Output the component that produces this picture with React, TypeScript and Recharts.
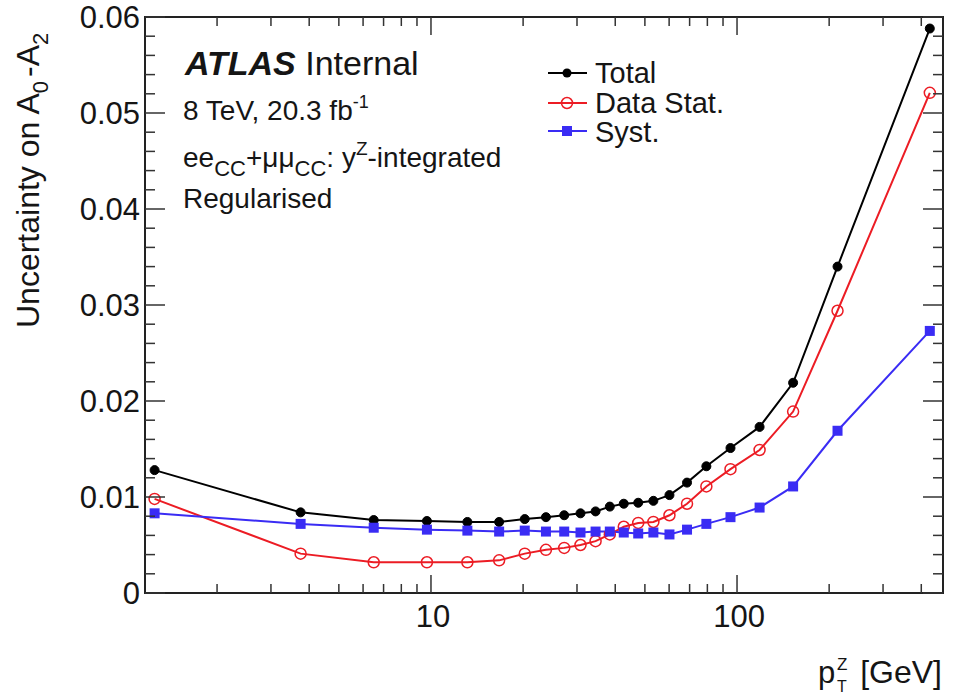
import { LineChart, Line, XAxis, YAxis, ReferenceArea } from "recharts";

// pT(Z) bin centres, GeV
const ptCentres = [
  1.25, 3.75, 6.5, 9.7, 13.15, 16.7, 20.25, 23.75, 27.25, 30.8, 34.5, 38.4,
  42.65, 47.55, 53.3, 60.15, 68.65, 79.4, 95.2, 118.5, 152.5, 213, 426.5,
];

const totalUnc = [
  0.0128, 0.0084, 0.0076, 0.0075, 0.0074, 0.0074, 0.0077, 0.0079, 0.0081,
  0.0083, 0.0085, 0.009, 0.0093, 0.0094, 0.0096, 0.0102, 0.0115, 0.0132,
  0.0151, 0.0173, 0.0219, 0.034, 0.0588,
];

const dataStatUnc = [
  0.0098, 0.0041, 0.0032, 0.0032, 0.0032, 0.0034, 0.0041, 0.0045, 0.0047,
  0.005, 0.0054, 0.0061, 0.0069, 0.0073, 0.0074, 0.0081, 0.0093, 0.0111,
  0.0129, 0.0149, 0.0189, 0.0294, 0.0521,
];

const systUnc = [
  0.0083, 0.0072, 0.0068, 0.0066, 0.0065, 0.0064, 0.0065, 0.0064, 0.0064,
  0.0063, 0.0064, 0.0064, 0.0063, 0.0062, 0.0063, 0.0061, 0.0066, 0.0072,
  0.0079, 0.0089, 0.0111, 0.0169, 0.0273,
];

const xTicks = [2, 3, 4, 5, 6, 7, 8, 9, 10, 20, 30, 40, 50, 60, 70, 80, 90, 100, 200, 300, 400];
const xLabelled = [10, 100];
const yTicks = [
  0, 0.002, 0.004, 0.006, 0.008, 0.01, 0.012, 0.014, 0.016, 0.018, 0.02, 0.022,
  0.024, 0.026, 0.028, 0.03, 0.032, 0.034, 0.036, 0.038, 0.04, 0.042, 0.044,
  0.046, 0.048, 0.05, 0.052, 0.054, 0.056, 0.058, 0.06,
];
const yLabelled = [0, 0.01, 0.02, 0.03, 0.04, 0.05, 0.06];

const X_MIN = 1.163;
const X_MAX = 471;

const W = 969;
const H = 698;
const PLOT_L = 145;
const PLOT_R = 943;
const PLOT_T = 17;
const PLOT_B = 593;

const FONT = "'Liberation Sans', Arial, Helvetica, sans-serif";
const INK = "#151515";
const RED = "#ec1c24";
const BLUE = "#3a2cf4";

const rows = ptCentres.map((pt, i) => ({
  pt,
  total: totalUnc[i],
  stat: dataStatUnc[i],
  syst: systUnc[i],
}));

function XTick(props: any) {
  const { x, payload } = props;
  const v = payload.value;
  const major = xLabelled.includes(v);
  const len = major ? 18 : 9;
  return (
    <g>
      <line x1={x} x2={x} y1={PLOT_B} y2={PLOT_B - len} stroke="#333" strokeWidth={1.5} />
      <line x1={x} x2={x} y1={PLOT_T} y2={PLOT_T + len} stroke="#333" strokeWidth={1.5} />
      {major && (
        <text x={x + 2} y={627} textAnchor="middle" fontSize={31} fontFamily={FONT} fill={INK}>
          {v}
        </text>
      )}
    </g>
  );
}

function YTick(props: any) {
  const { y, payload } = props;
  const v = payload.value;
  const major = yLabelled.some((m) => Math.abs(m - v) < 1e-9);
  const len = major ? 20 : 10;
  return (
    <g>
      <line x1={PLOT_L} x2={PLOT_L + len} y1={y} y2={y} stroke="#333" strokeWidth={1.5} />
      <line x1={PLOT_R} x2={PLOT_R - len} y1={y} y2={y} stroke="#333" strokeWidth={1.5} />
      {major && (
        <text x={140} y={y + 11} textAnchor="end" fontSize={31} fontFamily={FONT} fill={INK}>
          {v === 0 ? "0" : v.toFixed(2)}
        </text>
      )}
    </g>
  );
}

function SquareDot(props: any) {
  const { cx, cy, index } = props;
  return <rect key={`sq-${index}`} x={cx - 5} y={cy - 5} width={10} height={10} fill={BLUE} />;
}

function Overlay() {
  const legend = [
    { label: "Total", color: "#000", kind: "dot", y: 73, base: 83 },
    { label: "Data Stat.", color: RED, kind: "open", y: 103, base: 113 },
    { label: "Syst.", color: BLUE, kind: "square", y: 131, base: 142 },
  ];
  return (
    <svg
      width={W}
      height={H}
      style={{ position: "absolute", left: 0, top: 0, pointerEvents: "none" }}
      fontFamily={FONT}
      fill={INK}
    >
      <text x={185} y={75} fontSize={34}>
        <tspan fontWeight="bold" fontStyle="italic">ATLAS</tspan>
        <tspan> Internal</tspan>
      </text>
      <text x={183} y={120} fontSize={28}>
        8 TeV, 20.3 fb
        <tspan fontSize={18} dy={-12}>-1</tspan>
      </text>
      <text x={183} y={167} fontSize={28}>
        ee<tspan fontSize={22} dy={9}>CC</tspan>
        <tspan dy={-9}>+μμ</tspan>
        <tspan fontSize={22} dy={9}>CC</tspan>
        <tspan dy={-9}>: y</tspan>
        <tspan fontSize={19} dy={-12}>Z</tspan>
        <tspan dy={12}>-integrated</tspan>
      </text>
      <text x={183} y={208} fontSize={28}>
        Regularised
      </text>

      {legend.map((l) => (
        <g key={l.label}>
          <line x1={548} x2={587} y1={l.y} y2={l.y} stroke={l.color} strokeWidth={2} />
          {l.kind === "dot" && <circle cx={567} cy={l.y} r={4.5} fill={l.color} />}
          {l.kind === "open" && (
            <circle cx={567} cy={l.y} r={5.5} fill="none" stroke={l.color} strokeWidth={1.5} />
          )}
          {l.kind === "square" && <rect x={562} y={l.y - 5} width={10} height={10} fill={l.color} />}
          <text x={595} y={l.base} fontSize={29}>
            {l.label}
          </text>
        </g>
      ))}

      <text transform="translate(39, 328) rotate(-90)" fontSize={32}>
        Uncertainty on A
        <tspan fontSize={22} dy={9}>0</tspan>
        <tspan dy={-9} dx={4}>-A</tspan>
        <tspan fontSize={22} dy={9}>2</tspan>
      </text>

      <text x={818} y={683} fontSize={31}>p</text>
      <text x={837} y={670} fontSize={17}>Z</text>
      <text x={837} y={692} fontSize={16}>T</text>
      <text x={942} y={683} fontSize={32} textAnchor="end">
        [GeV]
      </text>
    </svg>
  );
}

export default function App() {
  return (
    <div style={{ position: "absolute", left: 0, top: 0, width: W, height: H, background: "#fff" }}>
      <LineChart
        width={W}
        height={H}
        data={rows}
        margin={{ top: PLOT_T, right: W - PLOT_R, bottom: 0, left: 0 }}
      >
        <XAxis
          dataKey="pt"
          type="number"
          scale="log"
          domain={[X_MIN, X_MAX]}
          allowDataOverflow
          ticks={xTicks}
          interval={0}
          tick={<XTick />}
          tickLine={false}
          axisLine={false}
          tickSize={0}
          tickMargin={0}
          height={H - PLOT_B}
        />
        <YAxis
          type="number"
          domain={[0, 0.06]}
          ticks={yTicks}
          interval={0}
          tick={<YTick />}
          tickLine={false}
          axisLine={false}
          tickSize={0}
          tickMargin={0}
          width={PLOT_L}
        />
        <ReferenceArea
          x1={X_MIN}
          x2={X_MAX}
          y1={0}
          y2={0.06}
          fill="none"
          stroke="#222"
          strokeWidth={2}
          ifOverflow="visible"
        />
        <Line
          dataKey="total"
          stroke="#000"
          strokeWidth={2}
          dot={{ r: 4.5, fill: "#000", stroke: "#000", strokeWidth: 1 }}
          isAnimationActive={false}
        />
        <Line
          dataKey="stat"
          stroke={RED}
          strokeWidth={2}
          dot={{ r: 5.5, fill: "none", stroke: RED, strokeWidth: 1.5 }}
          isAnimationActive={false}
        />
        <Line
          dataKey="syst"
          stroke={BLUE}
          strokeWidth={2}
          dot={<SquareDot />}
          isAnimationActive={false}
        />
      </LineChart>
      <Overlay />
    </div>
  );
}
